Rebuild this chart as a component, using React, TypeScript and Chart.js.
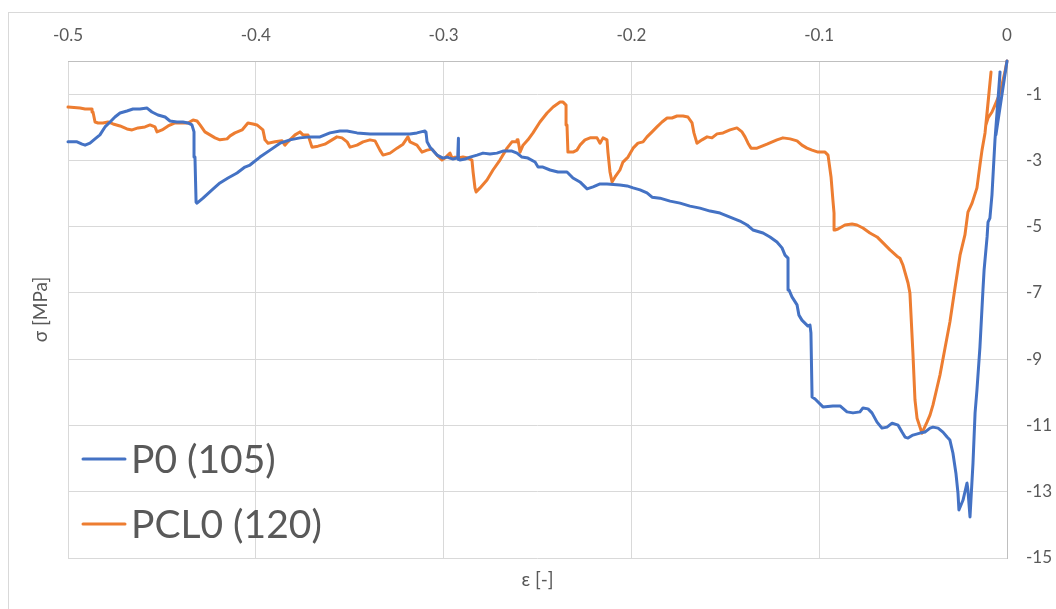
import { useEffect, useRef } from "react";
import { Chart, registerables } from "chart.js";

Chart.register(...registerables);

// Stress–strain curves, points as [strain ε, stress σ in MPa], recorded from the origin outwards
const p0Curve: [number, number][] = [
  [0, 0], [-0.0059, -2.23], [-0.0037, -0.33], [-0.0064, -2.38], [-0.008, -4.04], [-0.0091, -4.74],
  [-0.0101, -4.86], [-0.0106, -5.31], [-0.0122, -6.31], [-0.0128, -6.91], [-0.0144, -8.63], [-0.016, -9.93],
  [-0.017, -10.62], [-0.0181, -12.13], [-0.0197, -13.76], [-0.0208, -12.95], [-0.0213, -12.74], [-0.0234, -13.25],
  [-0.0256, -13.55], [-0.0261, -13.04], [-0.0272, -12.44], [-0.0288, -11.83], [-0.0304, -11.44], [-0.0319, -11.35],
  [-0.0341, -11.2], [-0.0367, -11.08], [-0.0394, -11.05], [-0.041, -11.08], [-0.0437, -11.2], [-0.0463, -11.23],
  [-0.0501, -11.29], [-0.0527, -11.38], [-0.0543, -11.35], [-0.0559, -11.2], [-0.058, -10.99], [-0.0612, -10.93],
  [-0.0639, -11.05], [-0.0666, -11.08], [-0.0692, -10.9], [-0.0719, -10.62], [-0.074, -10.5], [-0.0767, -10.47],
  [-0.0783, -10.59], [-0.082, -10.62], [-0.0852, -10.59], [-0.0889, -10.41], [-0.0927, -10.41], [-0.098, -10.44],
  [-0.1022, -10.2], [-0.1038, -10.14], [-0.1044, -8.21], [-0.1049, -7.97], [-0.106, -8.0], [-0.1076, -7.91],
  [-0.1092, -7.82], [-0.1108, -7.67], [-0.1118, -7.36], [-0.1145, -7.12], [-0.1161, -6.91], [-0.1166, -5.95],
  [-0.1182, -5.86], [-0.1198, -5.64], [-0.1225, -5.46], [-0.1262, -5.31], [-0.1299, -5.19], [-0.1353, -5.1],
  [-0.1384, -4.95], [-0.1422, -4.83], [-0.1475, -4.71], [-0.1528, -4.59], [-0.1581, -4.53], [-0.1635, -4.44],
  [-0.1688, -4.38], [-0.1741, -4.29], [-0.1794, -4.23], [-0.1848, -4.14], [-0.189, -4.11], [-0.1917, -3.98],
  [-0.1954, -3.89], [-0.1991, -3.83], [-0.2023, -3.77], [-0.2061, -3.74], [-0.213, -3.71], [-0.2167, -3.71],
  [-0.2204, -3.8], [-0.2236, -3.86], [-0.2274, -3.65], [-0.2311, -3.53], [-0.2343, -3.35], [-0.2391, -3.35],
  [-0.2433, -3.29], [-0.2471, -3.2], [-0.2497, -3.2], [-0.2513, -3.05], [-0.2551, -2.93], [-0.2583, -2.9],
  [-0.2609, -2.78], [-0.2636, -2.72], [-0.2684, -2.72], [-0.2716, -2.78], [-0.2753, -2.81], [-0.279, -2.78],
  [-0.2822, -2.84], [-0.2859, -2.9], [-0.2886, -2.96], [-0.2913, -2.99], [-0.2918, -2.97], [-0.2921, -2.33],
  [-0.2925, -2.92], [-0.295, -2.96], [-0.2982, -2.9], [-0.3003, -2.93], [-0.3035, -2.84], [-0.3072, -2.6],
  [-0.3088, -2.44], [-0.3094, -2.14], [-0.3099, -2.11], [-0.3142, -2.17], [-0.3179, -2.2], [-0.3248, -2.2],
  [-0.3323, -2.2], [-0.3392, -2.2], [-0.3461, -2.17], [-0.3514, -2.11], [-0.3552, -2.11], [-0.3605, -2.17],
  [-0.3658, -2.29], [-0.3711, -2.29], [-0.3765, -2.32], [-0.3818, -2.38], [-0.3871, -2.48], [-0.3924, -2.69],
  [-0.3978, -2.9], [-0.4031, -3.14], [-0.4058, -3.2], [-0.41, -3.38], [-0.4148, -3.53], [-0.4191, -3.68],
  [-0.4233, -3.89], [-0.4281, -4.14], [-0.4313, -4.29], [-0.4318, -4.26], [-0.4324, -2.9], [-0.4329, -2.14],
  [-0.434, -1.93], [-0.4361, -1.87], [-0.4388, -1.84], [-0.442, -1.84], [-0.4457, -1.81], [-0.4483, -1.69],
  [-0.4521, -1.63], [-0.4553, -1.54], [-0.4579, -1.42], [-0.4617, -1.45], [-0.4654, -1.45], [-0.4686, -1.51],
  [-0.4723, -1.57], [-0.475, -1.69], [-0.4776, -1.84], [-0.4803, -1.99], [-0.483, -2.23], [-0.4856, -2.35],
  [-0.4883, -2.48], [-0.4909, -2.54], [-0.4925, -2.51], [-0.4952, -2.44], [-0.5, -2.44],
];

const pcl0Curve: [number, number][] = [
  [0, 0], [-0.0011, -0.33], [-0.0037, -0.97], [-0.0064, -1.33], [-0.008, -1.54], [-0.0101, -1.72],
  [-0.0112, -1.93], [-0.0085, -0.33], [-0.0117, -2.17], [-0.0133, -2.69], [-0.0144, -3.14], [-0.016, -3.83],
  [-0.0186, -4.29], [-0.0208, -4.56], [-0.0224, -5.25], [-0.025, -5.86], [-0.0277, -6.85], [-0.0304, -7.88],
  [-0.033, -8.66], [-0.0357, -9.48], [-0.0373, -9.87], [-0.0394, -10.38], [-0.041, -10.69], [-0.0426, -10.9],
  [-0.0453, -11.23], [-0.0479, -10.78], [-0.049, -10.23], [-0.0501, -8.81], [-0.0517, -7.0], [-0.0527, -6.7],
  [-0.0554, -6.16], [-0.057, -5.95], [-0.0586, -5.89], [-0.0623, -5.7], [-0.066, -5.49], [-0.0692, -5.31],
  [-0.073, -5.19], [-0.0767, -5.04], [-0.0799, -4.95], [-0.0825, -4.92], [-0.0863, -4.95], [-0.09, -5.07],
  [-0.0916, -5.1], [-0.0921, -4.59], [-0.0927, -4.2], [-0.0937, -3.5], [-0.0953, -2.84], [-0.0969, -2.75],
  [-0.1006, -2.75], [-0.1038, -2.69], [-0.1065, -2.63], [-0.1092, -2.54], [-0.1118, -2.41], [-0.1155, -2.35],
  [-0.1193, -2.32], [-0.1225, -2.38], [-0.1278, -2.51], [-0.1331, -2.63], [-0.1363, -2.63], [-0.1379, -2.48],
  [-0.1395, -2.29], [-0.1411, -2.14], [-0.1438, -2.02], [-0.1475, -2.08], [-0.1512, -2.17], [-0.1544, -2.2],
  [-0.1571, -2.32], [-0.1597, -2.29], [-0.1624, -2.38], [-0.1651, -2.48], [-0.1667, -2.17], [-0.1677, -1.87],
  [-0.1699, -1.69], [-0.1725, -1.66], [-0.1757, -1.66], [-0.1784, -1.72], [-0.181, -1.72], [-0.1837, -1.84],
  [-0.1864, -1.99], [-0.189, -2.14], [-0.1917, -2.29], [-0.1938, -2.44], [-0.1965, -2.48], [-0.1991, -2.63],
  [-0.2018, -2.9], [-0.2045, -3.05], [-0.2061, -3.29], [-0.2087, -3.5], [-0.2103, -3.65], [-0.2114, -3.35],
  [-0.2125, -2.75], [-0.213, -2.38], [-0.2151, -2.32], [-0.2167, -2.48], [-0.2183, -2.32], [-0.222, -2.32],
  [-0.2247, -2.38], [-0.2274, -2.54], [-0.229, -2.69], [-0.2311, -2.75], [-0.2338, -2.75], [-0.2343, -1.93],
  [-0.2348, -1.33], [-0.2364, -1.24], [-0.238, -1.24], [-0.2417, -1.39], [-0.2449, -1.57], [-0.2487, -1.84],
  [-0.2524, -2.17], [-0.2551, -2.38], [-0.2577, -2.54], [-0.2593, -2.75], [-0.2604, -2.38], [-0.2609, -2.44],
  [-0.2636, -2.44], [-0.2662, -2.63], [-0.27, -2.99], [-0.2737, -3.29], [-0.2769, -3.59], [-0.2806, -3.83],
  [-0.2827, -3.95], [-0.2833, -3.83], [-0.2843, -3.35], [-0.2849, -2.99], [-0.287, -2.93], [-0.2897, -2.9],
  [-0.2923, -2.93], [-0.2939, -2.9], [-0.2955, -2.93], [-0.2966, -2.78], [-0.2993, -2.93], [-0.3009, -2.99],
  [-0.3035, -2.84], [-0.3062, -2.66], [-0.3088, -2.69], [-0.3115, -2.75], [-0.3142, -2.54], [-0.3179, -2.44],
  [-0.319, -2.29], [-0.3216, -2.51], [-0.3248, -2.63], [-0.3285, -2.78], [-0.3323, -2.84], [-0.3339, -2.69],
  [-0.3365, -2.41], [-0.3392, -2.38], [-0.3429, -2.44], [-0.3461, -2.54], [-0.3498, -2.6], [-0.3514, -2.44],
  [-0.3541, -2.32], [-0.3568, -2.29], [-0.3594, -2.38], [-0.3632, -2.51], [-0.3669, -2.57], [-0.3701, -2.6],
  [-0.3722, -2.23], [-0.3749, -2.23], [-0.3765, -2.14], [-0.3791, -2.23], [-0.3829, -2.44], [-0.3845, -2.54],
  [-0.386, -2.41], [-0.3898, -2.44], [-0.3935, -2.48], [-0.3951, -2.38], [-0.3962, -2.08], [-0.3994, -1.93],
  [-0.4015, -1.9], [-0.4042, -1.87], [-0.4073, -2.08], [-0.4111, -2.17], [-0.4137, -2.26], [-0.4153, -2.35],
  [-0.4191, -2.38], [-0.4217, -2.32], [-0.4244, -2.23], [-0.4271, -2.14], [-0.4297, -1.93], [-0.4313, -1.81],
  [-0.4334, -1.78], [-0.4361, -1.87], [-0.4393, -1.87], [-0.443, -1.87], [-0.4467, -1.96], [-0.4499, -2.08],
  [-0.4526, -2.14], [-0.4537, -1.99], [-0.4563, -1.93], [-0.459, -1.99], [-0.4627, -2.02], [-0.4659, -2.08],
  [-0.4686, -2.05], [-0.4723, -1.96], [-0.476, -1.9], [-0.4787, -1.84], [-0.4814, -1.87], [-0.484, -1.87],
  [-0.4856, -1.84], [-0.4867, -1.54], [-0.4872, -1.45], [-0.4909, -1.45], [-0.4936, -1.42], [-0.5, -1.39],
];

const seriesLabels = ["P0 (105)", "PCL0 (120)"];
const seriesColors = ["#4472C4", "#ED7D31"];

const strainTickValues = [-0.5, -0.4, -0.3, -0.2, -0.1, 0];
const strainTickLabels = ["-0.5", "-0.4", "-0.3", "-0.2", "-0.1", "0"];
const stressTickValues = [-15, -13, -11, -9, -7, -5, -3, -1];
const stressTickLabels = ["-15", "-13", "-11", "-9", "-7", "-5", "-3", "-1"];

const TEXT_COLOR = "#595959";
const GRID_COLOR = "#d9d9d9";
const FONT = "Lato";

// Legend drawn inside the plot area, lower-left corner
const insideLegend = {
  id: "insideLegend",
  afterDatasetsDraw(chart: Chart) {
    const { ctx, chartArea } = chart;
    ctx.save();
    ctx.font = `39px ${FONT}`;
    ctx.textBaseline = "alphabetic";
    ctx.textAlign = "left";
    chart.data.datasets.forEach((ds: any, i: number) => {
      const y = chartArea.bottom - 99 + i * 65;
      ctx.strokeStyle = ds.borderColor;
      ctx.lineWidth = 3;
      ctx.lineCap = "round";
      ctx.beginPath();
      ctx.moveTo(chartArea.left + 15, y);
      ctx.lineTo(chartArea.left + 57, y);
      ctx.stroke();
      ctx.fillStyle = TEXT_COLOR;
      ctx.fillText(ds.label, chartArea.left + 63, y + 14);
    });
    ctx.restore();
  },
};

export default function App() {
  const canvasRef = useRef<HTMLCanvasElement | null>(null);

  useEffect(() => {
    if (!canvasRef.current) return;
    const curves = [p0Curve, pcl0Curve];
    const chart = new Chart(canvasRef.current, {
      type: "line",
      data: {
        datasets: curves.map((curve, i) => ({
          label: seriesLabels[i],
          data: curve.map(([x, y]) => ({ x, y })),
          borderColor: seriesColors[i],
          backgroundColor: seriesColors[i],
          borderWidth: 3,
          pointRadius: 0,
          tension: 0,
          fill: false,
          clip: false as any,
          borderJoinStyle: "round" as const,
          borderCapStyle: "round" as const,
        })),
      },
      options: {
        animation: false,
        responsive: false,
        devicePixelRatio: 1,
        layout: { padding: 0 },
        plugins: {
          legend: { display: false },
          tooltip: { enabled: false },
        },
        scales: {
          x: {
            type: "linear",
            position: "top",
            min: -0.5,
            max: 0,
            afterBuildTicks: (s: any) => {
              s.ticks = strainTickValues.map((value) => ({ value }));
            },
            afterFit: (s: any) => {
              s.height = 61;
            },
            grid: { color: GRID_COLOR, lineWidth: 1, drawTicks: false },
            border: { display: true, color: "#bfbfbf", width: 1 },
            ticks: {
              padding: 15,
              color: TEXT_COLOR,
              font: { family: FONT, size: 17 },
              maxRotation: 0,
              autoSkip: false,
              callback: (_v: any, i: number) => strainTickLabels[i],
            },
          },
          xTitle: {
            type: "linear",
            position: "bottom",
            min: -0.5,
            max: 0,
            afterFit: (s: any) => {
              s.height = 51;
            },
            grid: { display: false, drawTicks: false },
            border: { display: false },
            ticks: { display: false },
            title: {
              display: true,
              text: "ε [-]",
              color: TEXT_COLOR,
              font: { family: FONT, size: 19 },
              padding: { top: 0, bottom: 18 },
            },
          },
          y: {
            type: "linear",
            position: "right",
            min: -15,
            max: 0,
            afterBuildTicks: (s: any) => {
              s.ticks = stressTickValues.map((value) => ({ value }));
            },
            afterFit: (s: any) => {
              s.width = 49;
            },
            grid: { color: GRID_COLOR, lineWidth: 1, drawTicks: false },
            border: { display: true, color: "#bfbfbf", width: 1 },
            ticks: {
              padding: 19,
              color: TEXT_COLOR,
              font: { family: FONT, size: 17 },
              autoSkip: false,
              callback: (_v: any, i: number) => stressTickLabels[i],
            },
          },
          yTitle: {
            type: "linear",
            position: "left",
            min: -15,
            max: 0,
            afterFit: (s: any) => {
              s.width = 68;
            },
            grid: { display: false, drawTicks: false },
            border: { display: false },
            ticks: { display: false },
            title: {
              display: true,
              text: "σ [MPa]",
              color: TEXT_COLOR,
              font: { family: FONT, size: 19 },
              padding: { top: 29, bottom: 0 },
            },
          },
        },
      } as any,
      plugins: [insideLegend],
    });

    const fonts = (document as any).fonts;
    if (fonts && fonts.load) {
      Promise.all([fonts.load(`17px ${FONT}`), fonts.load(`39px ${FONT}`)])
        .then(() => chart.update())
        .catch(() => {});
    }

    return () => {
      chart.destroy();
    };
  }, []);

  return (
    <div
      style={{
        position: "absolute",
        left: 0,
        top: 0,
        width: 1056,
        height: 609,
        background: "#ffffff",
        overflow: "hidden",
      }}
    >
      <div
        style={{
          position: "absolute",
          left: 8,
          top: 12,
          width: 1200,
          height: 800,
          border: "1px solid #d9d9d9",
          boxSizing: "border-box",
        }}
      />
      <canvas
        ref={canvasRef}
        width={1056}
        height={609}
        style={{ position: "absolute", left: 0, top: 0, display: "block" }}
      />
    </div>
  );
}
